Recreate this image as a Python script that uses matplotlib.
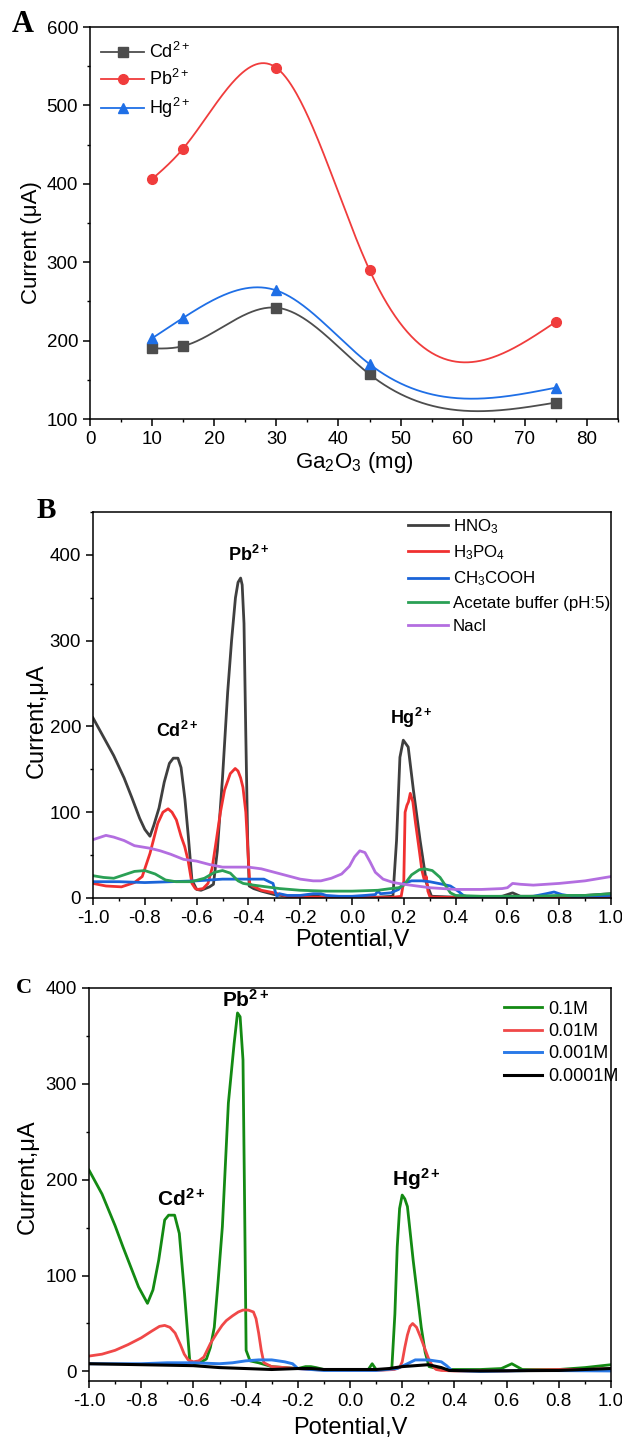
import numpy as np
import matplotlib
matplotlib.use('Agg')
import matplotlib.pyplot as plt
from matplotlib.ticker import MultipleLocator

plt.rcParams['font.family'] = ['Liberation Sans', 'DejaVu Sans']
plt.rcParams['mathtext.default'] = 'regular'
plt.rcParams['axes.linewidth'] = 1.1

# ---- panel A: peak current vs Ga2O3 loading ----
ga_mg = [10, 15, 30, 45, 75]
cd_a = [190, 193, 242, 157, 121]
pb_a = [406, 445, 548, 290, 224]
hg_a = [203, 229, 264, 170, 140]

# ---- panel B: supporting electrolytes ----
hno3_v = [-1.0, -0.96, -0.92, -0.88, -0.85, -0.82, -0.80, -0.78, -0.765, -0.745, -0.725,
          -0.705, -0.69, -0.672, -0.66, -0.645, -0.632, -0.618, -0.60, -0.583, -0.55,
          -0.535, -0.52, -0.50, -0.48, -0.465, -0.45, -0.44, -0.43, -0.424, -0.417,
          -0.41, -0.403, -0.397, -0.38, -0.35, -0.3, -0.25, -0.2, -0.15, -0.1, 0.0,
          0.1, 0.158, 0.172, 0.185, 0.198, 0.217, 0.237, 0.263, 0.288, 0.307, 0.4,
          0.5, 0.58, 0.62, 0.65, 0.7, 0.8, 0.9, 1.0]
hno3_i = [210, 188, 166, 140, 117, 93, 80, 72, 85, 105, 135, 157, 163, 163, 152, 115,
          72, 21, 10, 9, 13, 16, 55, 140, 240, 300, 350, 368, 373, 365, 320, 190, 70,
          14, 11, 8, 4, 2, 1.5, 2.5, 1, 1, 1, 2, 67, 164, 184, 176, 126, 67, 17, 2, 1,
          1, 2, 6, 2, 2, 2, 3, 5]

h3po4_v = [-1.0, -0.95, -0.89, -0.84, -0.81, -0.78, -0.75, -0.73, -0.71, -0.695, -0.678,
           -0.66, -0.646, -0.633, -0.618, -0.605, -0.595, -0.575, -0.556, -0.54, -0.524,
           -0.508, -0.492, -0.47, -0.451, -0.44, -0.43, -0.421, -0.41, -0.404, -0.395,
           -0.385, -0.37, -0.35, -0.3, -0.25, -0.2, 0.0, 0.15, 0.19, 0.2, 0.205, 0.212,
           0.218, 0.225, 0.235, 0.245, 0.26, 0.27, 0.28, 0.287, 0.293, 0.3, 0.31, 0.4,
           0.6, 0.8, 1.0]
h3po4_i = [17, 14, 13, 18, 25, 52, 87, 100, 104, 100, 91, 72, 60, 44, 17, 11, 10, 11,
           17, 35, 67, 100, 126, 145, 151, 148, 140, 129, 100, 67, 17, 14, 12, 9, 6, 2,
           1, 0.5, 0.5, 2, 20, 100, 108, 112, 122, 112, 88, 55, 32, 20, 25, 8, 2, 1,
           0.5, 0.5, 0.5, 1]

acoh_v = [-1.0, -0.9, -0.8, -0.7, -0.6, -0.5, -0.4, -0.34, -0.32, -0.305, -0.295, -0.29,
          -0.28, -0.25, -0.2, -0.15, -0.12, -0.1, -0.05, 0.0, 0.05, 0.09, 0.1, 0.11,
          0.15, 0.18, 0.2, 0.23, 0.27, 0.3, 0.35, 0.38, 0.41, 0.43, 0.45, 0.5, 0.6, 0.7,
          0.75, 0.78, 0.81, 0.85, 0.9, 1.0]
acoh_i = [19, 19, 18, 19, 20, 22, 22, 22, 19, 17, 6, 2, 5, 3, 3, 5, 5, 3, 2, 2, 3, 4,
          8, 5, 6, 10, 17, 20, 20, 19, 16, 14, 8, 3, 1, 1, 1, 2, 5, 7, 4, 2, 2, 3]

buffer_v = [-1.0, -0.96, -0.92, -0.88, -0.84, -0.8, -0.76, -0.72, -0.68, -0.62, -0.57,
            -0.53, -0.5, -0.47, -0.44, -0.42, -0.38, -0.33, -0.28, -0.2, -0.1, 0.0, 0.1,
            0.15, 0.18, 0.2, 0.23, 0.26, 0.28, 0.31, 0.34, 0.36, 0.38, 0.4, 0.5, 0.6,
            0.7, 0.8, 0.9, 1.0]
buffer_i = [26, 24, 23, 27, 31, 32, 28, 21, 19, 19, 23, 30, 32, 29, 20, 17, 15, 13, 11,
            9, 8, 8, 9, 11, 12, 15, 27, 33, 34, 32, 24, 15, 6, 3, 2, 2, 2, 3, 3, 5]

nacl_v = [-1.0, -0.97, -0.95, -0.92, -0.88, -0.84, -0.78, -0.74, -0.7, -0.65, -0.6,
          -0.55, -0.5, -0.45, -0.4, -0.35, -0.3, -0.25, -0.2, -0.15, -0.12, -0.08, -0.04,
          -0.01, 0.01, 0.03, 0.05, 0.07, 0.09, 0.12, 0.16, 0.2, 0.25, 0.3, 0.4, 0.5,
          0.58, 0.6, 0.62, 0.65, 0.7, 0.8, 0.9, 1.0]
nacl_i = [68, 71, 73, 71, 67, 61, 58, 55, 51, 45, 43, 39, 36, 36, 36, 34, 30, 26, 22,
          20, 20, 23, 28, 37, 48, 55, 53, 42, 30, 22, 18, 16, 14, 12, 10, 10, 11, 12, 17,
          16, 15, 17, 20, 25]

# ---- panel C: HNO3 concentration ----
c1_v = [-1.0, -0.95, -0.9, -0.87, -0.84, -0.81, -0.776, -0.755, -0.733, -0.71, -0.695,
        -0.672, -0.654, -0.634, -0.614, -0.596, -0.575, -0.55, -0.535, -0.52, -0.505,
        -0.489, -0.466, -0.444, -0.431, -0.421, -0.41, -0.404, -0.398, -0.383, -0.35,
        -0.3, -0.25, -0.2, -0.17, -0.15, -0.13, -0.1, 0.0, 0.07, 0.085, 0.1, 0.16,
        0.172, 0.181, 0.19, 0.2, 0.21, 0.22, 0.242, 0.258, 0.273, 0.288, 0.303, 0.35,
        0.5, 0.58, 0.62, 0.66, 0.8, 0.9, 1.0]
c1_i = [210, 185, 152, 130, 109, 88, 71, 85, 116, 158, 163, 163, 144, 81, 11, 8, 9, 13,
        25, 46, 95, 151, 280, 342, 374, 370, 325, 180, 22, 11, 9, 5, 4, 3, 5, 5, 4, 2, 2,
        2, 8, 2, 2, 60, 130, 170, 184, 180, 172, 116, 80, 46, 20, 5, 2, 2, 3, 8, 2, 2,
        4, 7]

c2_v = [-1.0, -0.95, -0.9, -0.85, -0.8, -0.76, -0.73, -0.71, -0.69, -0.67, -0.65, -0.635,
        -0.62, -0.6, -0.58, -0.56, -0.535, -0.51, -0.49, -0.474, -0.45, -0.428, -0.41,
        -0.39, -0.37, -0.36, -0.35, -0.34, -0.33, -0.3, -0.25, -0.2, -0.15, -0.1, 0.0,
        0.1, 0.17, 0.19, 0.2, 0.21, 0.22, 0.23, 0.24, 0.255, 0.27, 0.285, 0.3, 0.315,
        0.33, 0.35, 0.4, 0.5, 0.6, 0.7, 0.8, 0.9, 1.0]
c2_i = [16, 18, 22, 28, 35, 42, 47, 48, 46, 40, 28, 18, 12, 10, 11, 15, 29, 40, 48, 53,
        58, 62, 64, 64, 62, 55, 40, 22, 9, 5, 4, 3, 2, 1.5, 1, 1, 2, 4, 10, 25, 38, 47,
        50, 46, 36, 25, 14, 6, 2, 1, 0.5, 0.5, 0.5, 1.5, 2, 2, 3]

c3_v = [-1.0, -0.8, -0.7, -0.6, -0.5, -0.45, -0.4, -0.35, -0.3, -0.25, -0.22, -0.2, -0.1,
        0.0, 0.1, 0.18, 0.22, 0.25, 0.3, 0.35, 0.37, 0.39, 0.5, 0.7, 1.0]
c3_i = [8, 8, 9, 9, 8, 9, 11, 12, 12, 10, 8, 3, 1, 1, 1, 3, 8, 12, 12, 10, 6, 1, 0, 1,
        0.5]

c4_v = [-1.0, -0.8, -0.6, -0.5, -0.4, -0.3, -0.2, -0.15, -0.1, 0.0, 0.1, 0.15, 0.2,
        0.25, 0.3, 0.35, 0.38, 0.5, 0.8, 1.0]
c4_i = [8, 7, 6, 4, 3, 2, 3, 3, 2, 2, 2, 3, 5, 6, 7, 4, 1, 0.5, 1, 3]


def spline_line(x, y, n=300):
    # natural cubic spline, same look as the Origin "spline" connector
    x = np.asarray(x, float)
    y = np.asarray(y, float)
    h = np.diff(x)
    m = len(x)
    A = np.zeros((m, m))
    r = np.zeros(m)
    A[0, 0] = A[-1, -1] = 1
    for i in range(1, m - 1):
        A[i, i - 1] = h[i - 1]
        A[i, i] = 2 * (h[i - 1] + h[i])
        A[i, i + 1] = h[i]
        r[i] = 3 * ((y[i + 1] - y[i]) / h[i] - (y[i] - y[i - 1]) / h[i - 1])
    c = np.linalg.solve(A, r)
    b = (y[1:] - y[:-1]) / h - h * (2 * c[:-1] + c[1:]) / 3
    d = (c[1:] - c[:-1]) / (3 * h)
    xs = np.linspace(x[0], x[-1], n)
    k = np.clip(np.searchsorted(x, xs) - 1, 0, m - 2)
    dx = xs - x[k]
    return xs, y[k] + b[k] * dx + c[k] * dx ** 2 + d[k] * dx ** 3


def style_axes(ax, tick_size=13.5):
    ax.tick_params(which='major', direction='out', length=5, width=1.1,
                   labelsize=tick_size, top=False, right=False)
    ax.tick_params(which='minor', direction='out', length=2.5, width=1.0,
                   top=False, right=False)


W, H = 622, 1441
fig = plt.figure(figsize=(W / 100, H / 100), dpi=100)


def add_ax(l, t, r, b):
    return fig.add_axes([l / W, 1 - b / H, (r - l) / W, (b - t) / H])


# ---------------- A ----------------
axA = add_ax(90, 27, 618, 419)
for y, c, mk, lab in [(cd_a, '#4d4d4d', 's', 'Cd$^{2+}$'),
                      (pb_a, '#f03c3c', 'o', 'Pb$^{2+}$'),
                      (hg_a, '#1f6fe6', '^', 'Hg$^{2+}$')]:
    xs, ys = spline_line(ga_mg, y)
    axA.plot(xs, ys, color=c, lw=1.3)
    axA.plot(ga_mg, y, ls='none', marker=mk, color=c, ms=7)
    axA.plot([], [], color=c, lw=1.3, marker=mk, ms=7, label=lab)
axA.set_xlim(0, 85)
axA.set_ylim(100, 600)
axA.xaxis.set_major_locator(MultipleLocator(10))
axA.xaxis.set_minor_locator(MultipleLocator(5))
axA.yaxis.set_major_locator(MultipleLocator(100))
axA.yaxis.set_minor_locator(MultipleLocator(50))
style_axes(axA)
axA.set_xlabel('Ga$_2$O$_3$ (mg)', fontsize=16, va='center')
axA.set_ylabel('Current (μA)', fontsize=16, va='center')
axA.xaxis.set_label_coords(0.5, -0.112)
axA.yaxis.set_label_coords(-0.11, 0.45)
axA.legend(loc='upper left', bbox_to_anchor=(0.0, 0.99), frameon=False, fontsize=13,
           handlelength=2.4, handletextpad=0.25, labelspacing=0.4, borderaxespad=0.2)
fig.text(23 / W, 1 - 25 / H, 'A', family='Liberation Serif', weight='bold',
         fontsize=22, ha='center', va='center')

# ---------------- B ----------------
axB = add_ax(93, 512, 611, 898)
lw = 2.0
axB.plot(hno3_v, hno3_i, color='#3f3f3f', lw=lw, label='HNO$_3$')
axB.plot(h3po4_v, h3po4_i, color='#f03030', lw=lw, label='H$_3$PO$_4$')
axB.plot(acoh_v, acoh_i, color='#1a64d8', lw=lw, label='CH$_3$COOH')
axB.plot(buffer_v, buffer_i, color='#2aa055', lw=lw, label='Acetate buffer (pH:5)')
axB.plot(nacl_v, nacl_i, color='#b36ee0', lw=lw, label='Nacl')
axB.set_xlim(-1.0, 1.0)
axB.set_ylim(0, 450)
axB.xaxis.set_major_locator(MultipleLocator(0.2))
axB.xaxis.set_minor_locator(MultipleLocator(0.1))
axB.yaxis.set_major_locator(MultipleLocator(100))
axB.yaxis.set_minor_locator(MultipleLocator(50))
axB.set_yticks([0, 100, 200, 300, 400])
style_axes(axB)
axB.set_xticklabels([f'{v:.1f}' for v in axB.get_xticks()])
axB.set_xlabel('Potential,V', fontsize=17, va='center')
axB.set_ylabel('Current,μA', fontsize=17, va='center')
axB.xaxis.set_label_coords(0.5, -0.109)
axB.yaxis.set_label_coords(-0.108, 0.46)
axB.text(-0.673, 195, 'Cd$^{2+}$', fontsize=13, weight='bold', ha='center', va='center')
axB.text(-0.40, 400, 'Pb$^{2+}$', fontsize=13, weight='bold', ha='center', va='center')
axB.text(0.23, 210, 'Hg$^{2+}$', fontsize=13, weight='bold', ha='center', va='center')
axB.legend(loc='upper left', bbox_to_anchor=(0.598, 1.0), frameon=False, fontsize=12.2,
           handlelength=2.35, handletextpad=0.3, labelspacing=0.45, borderaxespad=0.1,
           borderpad=0.2)
fig.text(46 / W, 1 - 510 / H, 'B', family='Liberation Serif', weight='bold',
         fontsize=21, ha='center', va='center')

# ---------------- C ----------------
axC = add_ax(89, 988, 611, 1381)
axC.plot(c1_v, c1_i, color='#138a13', lw=2.0, label='0.1M')
axC.plot(c2_v, c2_i, color='#f04848', lw=2.0, label='0.01M')
axC.plot(c3_v, c3_i, color='#2a7ae8', lw=2.1, label='0.001M')
axC.plot(c4_v, c4_i, color='#000000', lw=2.2, label='0.0001M')
axC.set_xlim(-1.0, 1.0)
axC.set_ylim(-10, 400)
axC.xaxis.set_major_locator(MultipleLocator(0.2))
axC.xaxis.set_minor_locator(MultipleLocator(0.1))
axC.yaxis.set_major_locator(MultipleLocator(100))
axC.yaxis.set_minor_locator(MultipleLocator(50))
style_axes(axC)
axC.set_xticklabels([f'{v:.1f}' for v in axC.get_xticks()])
axC.set_xlabel('Potential,V', fontsize=17, va='center')
axC.set_ylabel('Current,μA', fontsize=17, va='center')
axC.xaxis.set_label_coords(0.5, -0.12)
axC.yaxis.set_label_coords(-0.117, 0.52)
axC.text(-0.646, 180, 'Cd$^{2+}$', fontsize=15, weight='bold', ha='center', va='center')
axC.text(-0.398, 388, 'Pb$^{2+}$', fontsize=15, weight='bold', ha='center', va='center')
axC.text(0.253, 201, 'Hg$^{2+}$', fontsize=15, weight='bold', ha='center', va='center')
axC.legend(loc='upper left', bbox_to_anchor=(0.77, 1.0), frameon=False, fontsize=13,
           handlelength=2.15, handletextpad=0.3, labelspacing=0.3, borderaxespad=0.3)
fig.text(24 / W, 1 - 988 / H, 'C', family='Liberation Serif', weight='bold',
         fontsize=16, ha='center', va='center')

fig.savefig('out.png', dpi=100)
